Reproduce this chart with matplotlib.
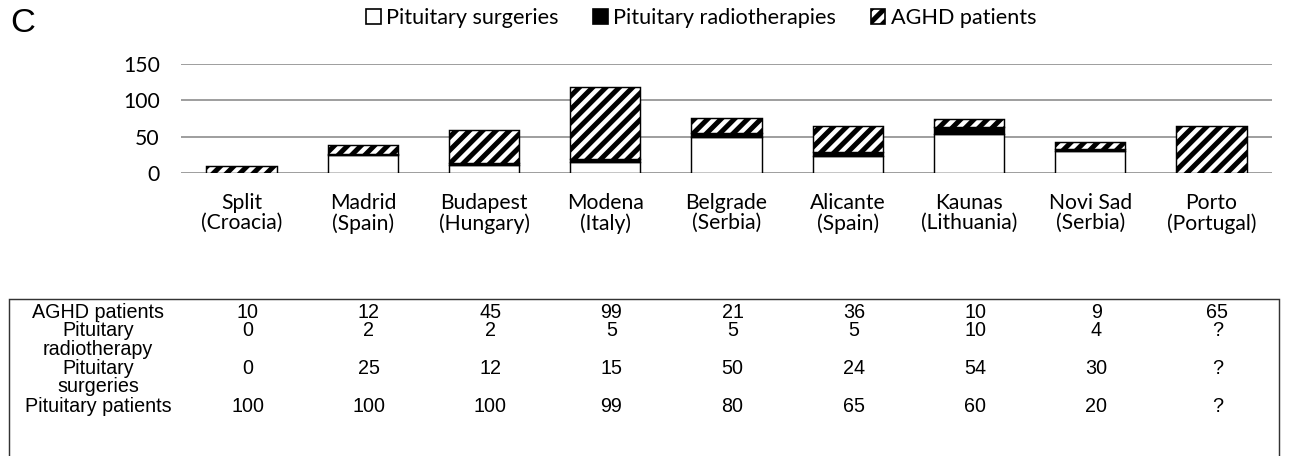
import numpy as np
import matplotlib.pyplot as plt
from matplotlib.patches import Patch, Rectangle
from matplotlib.transforms import blended_transform_factory

cities = ["Split\n(Croacia)", "Madrid\n(Spain)", "Budapest\n(Hungary)", "Modena\n(Italy)",
          "Belgrade\n(Serbia)", "Alicante\n(Spain)", "Kaunas\n(Lithuania)", "Novi Sad\n(Serbia)",
          "Porto\n(Portugal)"]
aghd = [10, 12, 45, 99, 21, 36, 10, 9, 65]
radio = [0, 2, 2, 5, 5, 5, 10, 4, None]
surgeries = [0, 25, 12, 15, 50, 24, 54, 30, None]
pit_patients = [100, 100, 100, 99, 80, 65, 60, 20, None]
yticks = [0, 50, 100, 150]

W, H, DPI = 1293, 456, 80
plt.rcParams["hatch.linewidth"] = 4.5
plt.rcParams["hatch.color"] = "black"

fig = plt.figure(figsize=(W / DPI, H / DPI), dpi=DPI)

def fy(px):
    # pixel from top -> figure fraction
    return 1 - px / H

ax = fig.add_axes([181 / W, fy(173.3), 1091 / W, (173.3 - 64) / H])

x = np.arange(len(cities))
s = np.array([np.nan if v is None else v for v in surgeries], dtype=float)
r = np.array([np.nan if v is None else v for v in radio], dtype=float)
a = np.array(aghd, dtype=float)
s0 = np.nan_to_num(s)
r0 = np.nan_to_num(r)

bw = 0.58
ax.bar(x, s0, bw, color="white", edgecolor="black", linewidth=1.3, zorder=2)
ax.bar(x, r0, bw, bottom=s0, color="black", edgecolor="black", linewidth=1.3, zorder=2)
ax.bar(x, a, bw, bottom=s0 + r0, color="white", edgecolor="black", hatch="//",
       linewidth=1.3, zorder=2)

ax.set_xlim(-0.5, len(cities) - 0.5)
ax.set_ylim(0, 150)
ax.set_yticks(yticks)
ax.yaxis.grid(True, color="#a0a0a0", linewidth=1.8)
ax.set_axisbelow(True)
for sp in ax.spines.values():
    sp.set_visible(False)
ax.tick_params(length=0)
ax.tick_params(axis="y", pad=19, labelsize=19)
ax.set_xticks(x)
ax.set_xticklabels(cities, fontsize=19, linespacing=1.0)
ax.tick_params(axis="x", pad=18)
for lab in ax.get_xticklabels() + ax.get_yticklabels():
    lab.set_fontfamily("Lato")

# legend
handles = [Patch(facecolor="white", edgecolor="black", linewidth=1.5),
           Patch(facecolor="black", edgecolor="black", linewidth=1.5),
           Patch(facecolor="white", edgecolor="black", hatch="//", linewidth=1.5)]
labels = ["Pituitary surgeries", "Pituitary radiotherapies", "AGHD patients"]
fig.legend(handles, labels, loc="center", bbox_to_anchor=(701 / W, fy(18)), ncol=3,
           frameon=False, prop={"family": "Lato", "size": 19.5}, handlelength=0.67,
           handleheight=0.67, handletextpad=0.25, columnspacing=1.6, borderpad=0)

fig.text(23 / W, fy(23), "C", fontsize=31, family="Liberation Sans", ha="center", va="center")

# table underneath
fig.add_artist(Rectangle((9 / W, fy(470)), (1279 - 9) / W, (470 - 299) / H,
                         transform=fig.transFigure, facecolor="none", edgecolor="#333333",
                         linewidth=1.3))
tr = blended_transform_factory(ax.transData, fig.transFigure)
tfont = dict(family="Liberation Sans", fontsize=17.8, ha="center", va="center")
row_labels = [("AGHD patients", 312), ("Pituitary", 331), ("radiotherapy", 349.5),
              ("Pituitary", 368.5), ("surgeries", 387), ("Pituitary patients", 406)]
for txt, py in row_labels:
    fig.text(98 / W, fy(py), txt, **tfont)

def cell(v):
    return "?" if v is None else str(v)

rows = [(aghd, 312), (radio, 331), (surgeries, 368.5), (pit_patients, 406)]
for vals, py in rows:
    for i, v in enumerate(vals):
        ax.text(i + 0.05, fy(py), cell(v), transform=tr, clip_on=False, **tfont)

fig.savefig("out.png", dpi=DPI)
